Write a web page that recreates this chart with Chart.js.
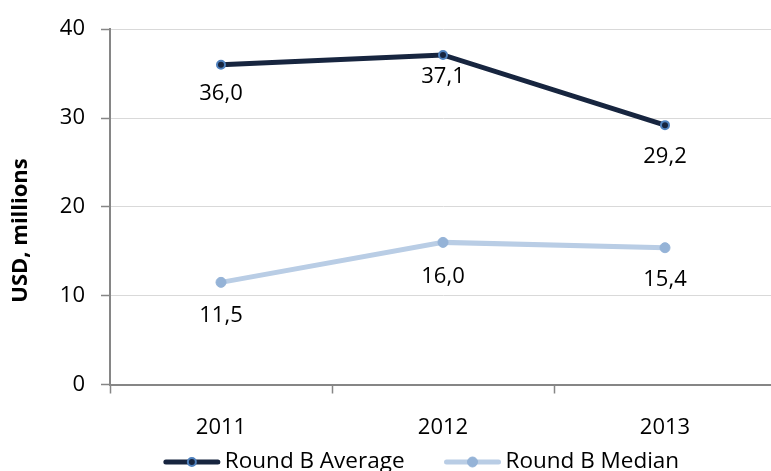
<!DOCTYPE html>
<html>
<head>
<meta charset="utf-8">
<script src="https://cdn.jsdelivr.net/npm/chart.js@4"></script>
<style>
  html, body { margin: 0; padding: 0; background: #fff; overflow: hidden; }
  #wrap { width: 771px; height: 471px; overflow: hidden; }
  canvas { display: block; }
</style>
</head>
<body>
<div id="wrap"><canvas id="c" width="800" height="490"></canvas></div>
<script>
// Funding round figures, USD millions
const years = ['2011', '2012', '2013'];
const roundBAverage = [36.0, 37.1, 29.2];
const roundBMedian = [11.5, 16.0, 15.4];
const yTicks = [0, 10, 20, 30, 40];
const yAxisTitle = 'USD, millions';

const FONT = '"Open Sans", Lato, sans-serif';
const NAVY = '#17253f';
const PALE = '#b9cde5';

// vertical gap (px) between each point and its value label
const labelGap = [[29, 22, 32], [33, 34, 32]];

const valueLabels = {
  id: 'valueLabels',
  afterDatasetsDraw(chart) {
    const ctx = chart.ctx;
    ctx.save();
    ctx.font = '22px ' + FONT;
    ctx.fillStyle = '#000';
    ctx.textAlign = 'center';
    ctx.textBaseline = 'middle';
    chart.data.datasets.forEach((ds, di) => {
      chart.getDatasetMeta(di).data.forEach((pt, i) => {
        const txt = ds.data[i].toFixed(1).replace('.', ',');
        ctx.fillText(txt, pt.x, pt.y + labelGap[di][i]);
      });
    });
    ctx.restore();
  }
};

// rotated axis title, sitting a little below the middle of the value axis
const sideTitle = {
  id: 'sideTitle',
  afterDraw(chart) {
    const ctx = chart.ctx;
    ctx.save();
    ctx.translate(21, 230.5);
    ctx.rotate(-Math.PI / 2);
    ctx.font = 'bold 22px ' + FONT;
    ctx.fillStyle = '#000';
    ctx.textAlign = 'center';
    ctx.textBaseline = 'middle';
    ctx.fillText(yAxisTitle, 0, 0);
    ctx.restore();
  }
};

const lineLegend = {
  id: 'lineLegend',
  afterDraw(chart) {
    const ctx = chart.ctx;
    const y = 462;
    const symW = 56, textGap = 5, itemGap = 40;
    ctx.save();
    ctx.font = '22.5px ' + FONT;
    const items = chart.data.datasets.map(ds => ({ ds, w: ctx.measureText(ds.label).width }));
    const total = items.reduce((s, it) => s + symW + textGap + it.w, 0) + itemGap * (items.length - 1);
    let x = 421.5 - total / 2;
    items.forEach(({ ds, w }) => {
      ctx.strokeStyle = ds.borderColor;
      ctx.lineWidth = ds.borderWidth;
      ctx.lineCap = 'round';
      ctx.beginPath();
      ctx.moveTo(x + 2, y);
      ctx.lineTo(x + symW - 2, y);
      ctx.stroke();
      ctx.beginPath();
      ctx.arc(x + symW / 2, y, ds.pointRadius, 0, Math.PI * 2);
      ctx.fillStyle = ds.pointBackgroundColor;
      ctx.fill();
      ctx.lineWidth = ds.pointBorderWidth;
      ctx.strokeStyle = ds.pointBorderColor;
      ctx.stroke();
      ctx.fillStyle = '#000';
      ctx.textAlign = 'left';
      ctx.textBaseline = 'middle';
      ctx.fillText(ds.label, x + symW + textGap, y);
      x += symW + textGap + w + itemGap;
    });
    ctx.restore();
  }
};

new Chart(document.getElementById('c'), {
  type: 'line',
  data: {
    labels: years,
    datasets: [
      {
        label: 'Round B Average',
        data: roundBAverage,
        borderColor: NAVY,
        borderWidth: 5,
        pointRadius: 4,
        pointBackgroundColor: NAVY,
        pointBorderColor: '#4f81bd',
        pointBorderWidth: 2,
        tension: 0
      },
      {
        label: 'Round B Median',
        data: roundBMedian,
        borderColor: PALE,
        borderWidth: 5,
        pointRadius: 5,
        pointBackgroundColor: '#95b3d7',
        pointBorderColor: '#95b3d7',
        pointBorderWidth: 1,
        tension: 0
      }
    ]
  },
  options: {
    responsive: false,
    animation: false,
    events: [],
    layout: { padding: { left: 0, right: 24, top: 25, bottom: 45 } },
    plugins: { legend: { display: false }, tooltip: { enabled: false } },
    scales: {
      x: {
        offset: true,
        afterFit(scale) { scale.height = 60.5; },
        grid: {
          offset: true,
          drawOnChartArea: false,
          drawTicks: true,
          tickLength: 9,
          tickColor: '#868686',
          tickWidth: 1.5
        },
        border: { color: '#868686', width: 2 },
        ticks: {
          color: '#000',
          font: { family: FONT, size: 22 },
          padding: 21,
          maxRotation: 0
        }
      },
      y: {
        min: 0,
        max: 40,
        afterFit(scale) { scale.width = 110; },
        afterBuildTicks(scale) { scale.ticks = yTicks.map(v => ({ value: v })); },
        grid: {
          color: '#d9d9d9',
          lineWidth: 1,
          drawTicks: true,
          tickLength: 9,
          tickColor: '#868686',
          tickWidth: 1.5
        },
        border: { color: '#868686', width: 2 },
        ticks: {
          color: '#000',
          font: { family: FONT, size: 22 },
          padding: 16
        }
      }
    }
  },
  plugins: [valueLabels, sideTitle, lineLegend]
});
</script>
</body>
</html>
